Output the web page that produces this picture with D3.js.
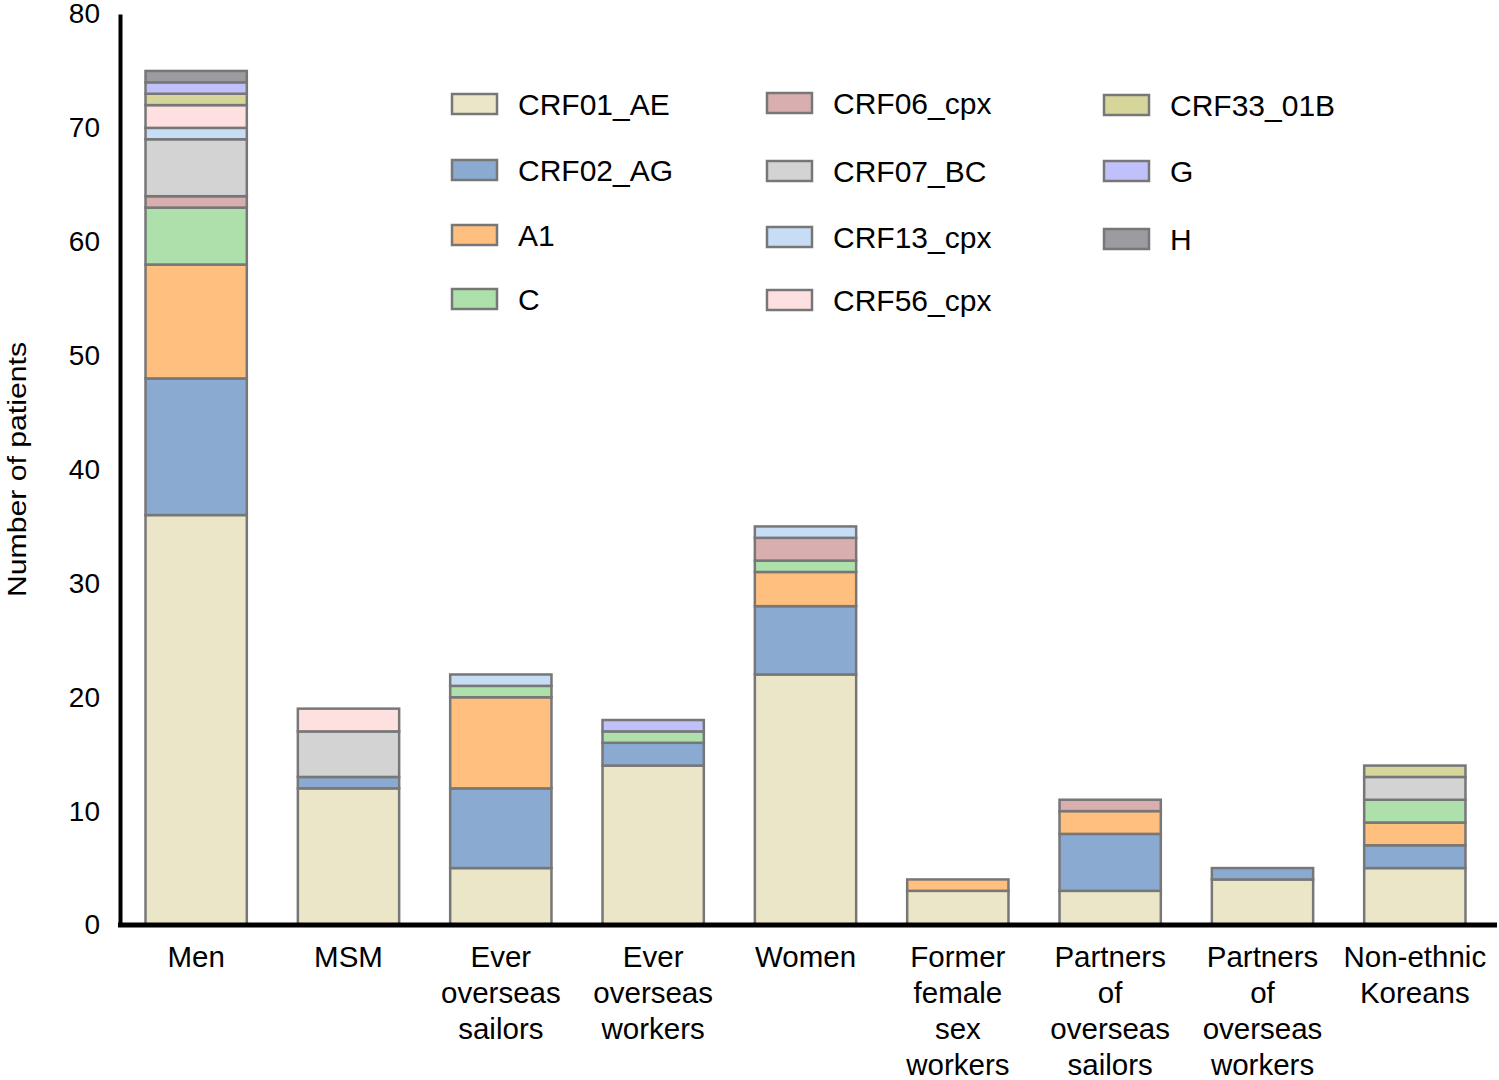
<!DOCTYPE html>
<html>
<head>
<meta charset="utf-8">
<script src="https://cdn.jsdelivr.net/npm/d3@7"></script>
<style>
  body { margin: 0; background: #fff; }
  text { font-family: "Liberation Sans", Arial, sans-serif; }
</style>
</head>
<body>
<svg id="chart" width="1499" height="1080"></svg>
<script>
// categories (x axis), one label line per array item
const groups = [
  ["Men"], ["MSM"], ["Ever", "overseas", "sailors"], ["Ever", "overseas", "workers"],
  ["Women"], ["Former", "female", "sex", "workers"], ["Partners", "of", "overseas", "sailors"],
  ["Partners", "of", "overseas", "workers"], ["Non-ethnic", "Koreans"]
];
const subtypes = ["CRF01_AE", "CRF02_AG", "A1", "C", "CRF06_cpx", "CRF07_BC",
  "CRF13_cpx", "CRF56_cpx", "CRF33_01B", "G", "H"];
const colors = ["#ece6c8", "#8aaad2", "#ffbf7f", "#aee0ab", "#d8aeae", "#d3d3d3",
  "#c7ddf6", "#fee0e1", "#d6d69a", "#c0c0fa", "#9b9ba0"];

// counts per subtype, in the order of groups
const CRF01_AE  = [36, 12, 5, 14, 22, 3, 3, 4, 5];
const CRF02_AG  = [12, 1, 7, 2, 6, 0, 5, 1, 2];
const A1        = [10, 0, 8, 0, 3, 1, 2, 0, 2];
const C         = [5, 0, 1, 1, 1, 0, 0, 0, 2];
const CRF06_cpx = [1, 0, 0, 0, 2, 0, 1, 0, 0];
const CRF07_BC  = [5, 4, 0, 0, 0, 0, 0, 0, 2];
const CRF13_cpx = [1, 0, 1, 0, 1, 0, 0, 0, 0];
const CRF56_cpx = [2, 2, 0, 0, 0, 0, 0, 0, 0];
const CRF33_01B = [1, 0, 0, 0, 0, 0, 0, 0, 1];
const G         = [1, 0, 0, 1, 0, 0, 0, 0, 0];
const H         = [1, 0, 0, 0, 0, 0, 0, 0, 0];
const series = [CRF01_AE, CRF02_AG, A1, C, CRF06_cpx, CRF07_BC, CRF13_cpx, CRF56_cpx, CRF33_01B, G, H];

const yTicks = [0, 10, 20, 30, 40, 50, 60, 70, 80];

const svg = d3.select("#chart");
const margin = { left: 120, right: 8, top: 14, bottom: 155 };
const width = 1499, height = 1080;

const x = d3.scaleBand()
  .domain(d3.range(groups.length))
  .range([margin.left, width - margin.right])
  .paddingInner(0.335)
  .paddingOuter(0.1675);
const y = d3.scaleLinear().domain([0, 80]).range([height - margin.bottom, margin.top]);

// build table for stacking
const table = groups.map((g, i) => {
  const row = { idx: i };
  subtypes.forEach((s, j) => { row[s] = series[j][i]; });
  return row;
});
const stacked = d3.stack().keys(subtypes)(table);

svg.append("g")
  .selectAll("g")
  .data(stacked)
  .enter()
  .append("g")
  .attr("fill", (d, i) => colors[i])
  .selectAll("rect")
  .data(d => d.filter(p => p[1] - p[0] > 0))
  .enter()
  .append("rect")
  .attr("x", d => x(d.data.idx))
  .attr("width", x.bandwidth())
  .attr("y", d => y(d[1]))
  .attr("height", d => y(d[0]) - y(d[1]))
  .attr("stroke", "#777")
  .attr("stroke-width", 2.5);

// y axis
const yAxis = svg.append("g")
  .attr("transform", `translate(${margin.left},0)`)
  .call(d3.axisLeft(y).tickValues(yTicks).tickSize(0).tickPadding(20));
yAxis.select(".domain").attr("stroke", "#000").attr("stroke-width", 4);
yAxis.selectAll(".tick text")
  .attr("font-size", 28)
  .attr("fill", "#000")
  .style("font-family", "Liberation Sans, Arial, sans-serif");

// x axis
const xAxis = svg.append("g")
  .attr("transform", `translate(0,${y(0)})`)
  .call(d3.axisBottom(x).tickSize(0).tickFormat(""));
xAxis.select(".domain")
  .attr("d", `M${margin.left - 2},0H${width - 2}`)
  .attr("stroke", "#000").attr("stroke-width", 5);

xAxis.selectAll(".tick")
  .append("text")
  .attr("fill", "#000")
  .attr("font-size", 29.5)
  .attr("text-anchor", "middle")
  .selectAll("tspan")
  .data(i => groups[i])
  .enter()
  .append("tspan")
  .attr("x", 0)
  .attr("y", (d, k) => 42 + k * 36)
  .text(d => d);

// y label
svg.append("text")
  .attr("transform", `translate(26,${(y(0) + y(80)) / 2}) rotate(-90)`)
  .attr("text-anchor", "middle")
  .attr("font-size", 26)
  .attr("textLength", 255)
  .attr("lengthAdjust", "spacingAndGlyphs")
  .text("Number of patients");

// legend in three columns
const legendCols = [452, 767, 1104];
const legendRows = [[104, 170, 235, 299], [103, 171, 237, 300], [105, 171, 239]];
const legend = svg.append("g")
  .selectAll("g")
  .data(subtypes)
  .enter()
  .append("g")
  .attr("transform", (d, i) => {
    const col = i < 4 ? 0 : i < 8 ? 1 : 2;
    const row = i < 4 ? i : i < 8 ? i - 4 : i - 8;
    return `translate(${legendCols[col]},${legendRows[col][row]})`;
  });
legend.append("rect")
  .attr("x", 0).attr("y", -10)
  .attr("width", 45).attr("height", 20)
  .attr("fill", (d, i) => colors[i])
  .attr("stroke", "#777")
  .attr("stroke-width", 2.5);
legend.append("text")
  .attr("x", 66)
  .attr("y", 11)
  .attr("font-size", 30)
  .attr("fill", "#000")
  .text(d => d);
</script>
</body>
</html>
